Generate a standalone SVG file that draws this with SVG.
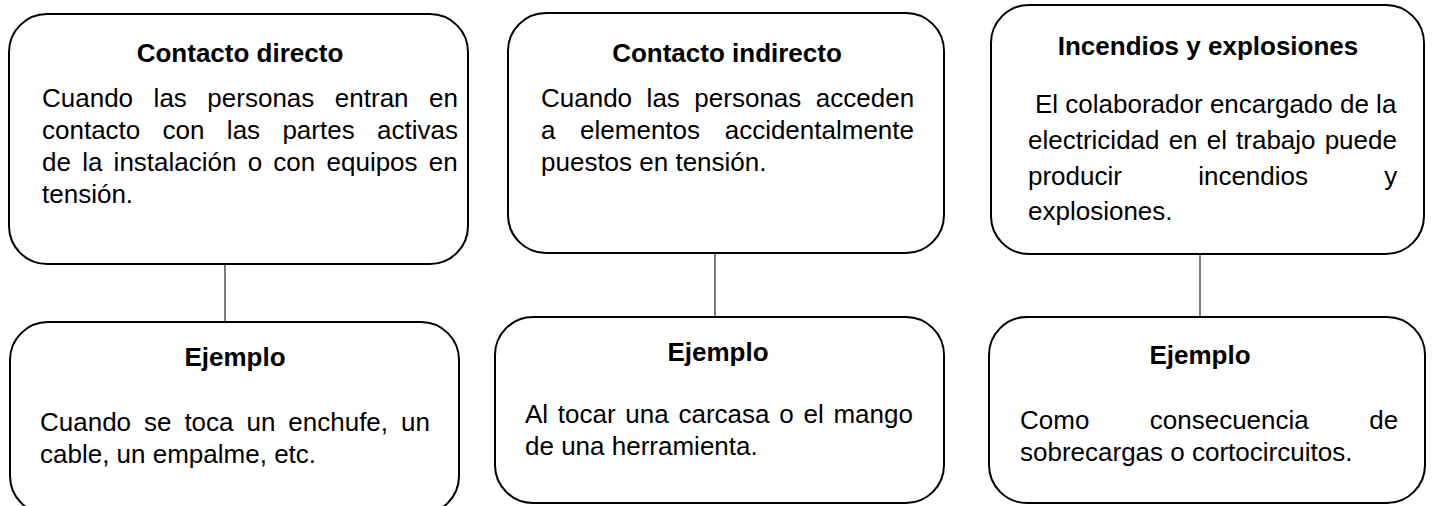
<svg xmlns="http://www.w3.org/2000/svg" width="1434" height="506" viewBox="0 0 1434 506">
<style>
.box{fill:#fff;stroke:#000;stroke-width:2}
.t{font-family:"Liberation Sans",Arial,sans-serif;font-size:26px;font-weight:bold;fill:#000;text-anchor:middle}
.b{font-family:"Liberation Sans",Arial,sans-serif;font-size:26px;fill:#000}
.c{stroke:#222;stroke-width:1.2;fill:none}
</style>
<rect width="1434" height="506" fill="#fff"/>
<g id="connectors">
<line class="c" x1="225" y1="264" x2="225" y2="322"/>
<line class="c" x1="715" y1="253" x2="715" y2="317"/>
<line class="c" x1="1200" y1="254" x2="1200" y2="317"/>
</g>
<g id="contacto-directo">
<rect class="box" x="9" y="14" width="459" height="250" rx="38"/>
<text class="t" x="240" y="62">Contacto directo</text>
<text class="b" x="42" y="107" style="word-spacing:13.3px">Cuando las personas entran en</text>
<text class="b" x="42" y="139" style="word-spacing:15.1px">contacto con las partes activas</text>
<text class="b" x="42" y="171" style="word-spacing:4px">de la instalación o con equipos en</text>
<text class="b" x="42" y="203">tensión.</text>
</g>
<g id="contacto-indirecto">
<rect class="box" x="508" y="13" width="436" height="240" rx="38"/>
<text class="t" x="727" y="62">Contacto indirecto</text>
<text class="b" x="541" y="107" style="word-spacing:7.3px">Cuando las personas acceden</text>
<text class="b" x="541" y="139" style="word-spacing:17.4px">a elementos accidentalmente</text>
<text class="b" x="541" y="171">puestos en tensión.</text>
</g>
<g id="incendios">
<rect class="box" x="991" y="5" width="433" height="249" rx="38"/>
<text class="t" x="1208" y="55">Incendios y explosiones</text>
<text class="b" x="1035" y="113">El colaborador encargado de la</text>
<text class="b" x="1028" y="149" style="word-spacing:1.9px">electricidad en el trabajo puede</text>
<text class="b" x="1028" y="185" style="word-spacing:69px">producir incendios y</text>
<text class="b" x="1028" y="220">explosiones.</text>
</g>
<g id="ejemplo-1">
<rect class="box" x="10" y="322" width="449" height="192" rx="38"/>
<text class="t" x="235" y="366">Ejemplo</text>
<text class="b" x="40" y="431" style="word-spacing:5.7px">Cuando se toca un enchufe, un</text>
<text class="b" x="40" y="463">cable, un empalme, etc.</text>
</g>
<g id="ejemplo-2">
<rect class="box" x="495" y="317" width="449" height="186" rx="38"/>
<text class="t" x="718" y="361">Ejemplo</text>
<text class="b" x="525" y="423" style="word-spacing:2.5px">Al tocar una carcasa o el mango</text>
<text class="b" x="525" y="455">de una herramienta.</text>
</g>
<g id="ejemplo-3">
<rect class="box" x="989" y="317" width="436" height="186" rx="38"/>
<text class="t" x="1200" y="364">Ejemplo</text>
<text class="b" x="1020" y="429" style="word-spacing:53.2px">Como consecuencia de</text>
<text class="b" x="1020" y="461">sobrecargas o cortocircuitos.</text>
</g>
</svg>
